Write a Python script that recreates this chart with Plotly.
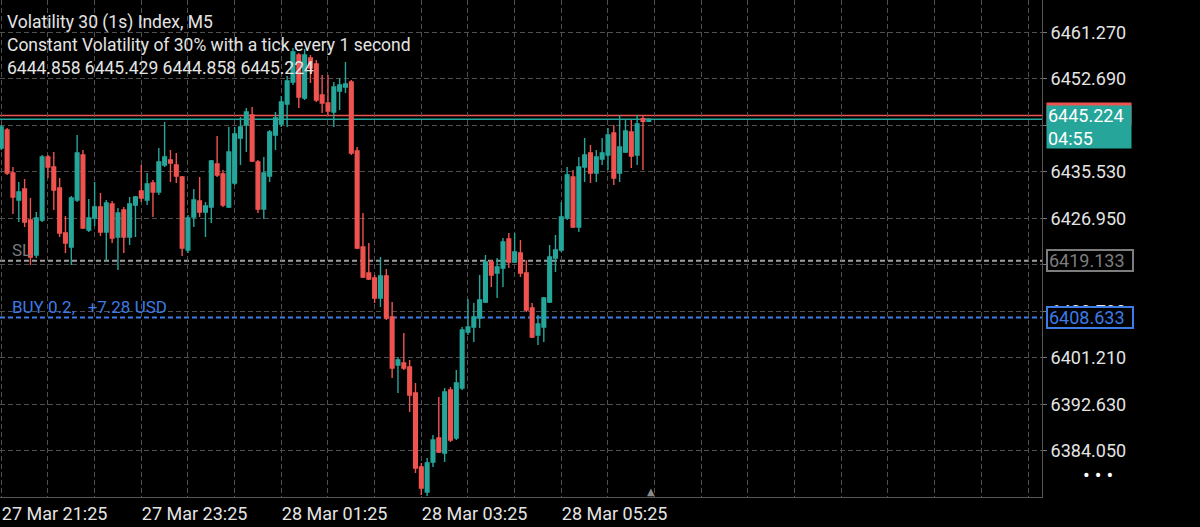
import pandas as pd
import plotly.graph_objects as go

# ---------------- data ----------------
start_time = "2025-03-27 21:25"
n_candles = 112
times = pd.date_range(start_time, periods=n_candles, freq="5min")

open_ = [6439.92, 6443.24, 6435.31, 6430.33, 6432.36, 6426.64, 6420.18, 6426.64, 6438.26, 6436.42,
         6432.54, 6424.24, 6421.66, 6430.33, 6438.63, 6424.79, 6427.01, 6429.04, 6424.43, 6429.59,
         6423.50, 6428.48, 6423.50, 6429.41, 6431.99, 6430.33, 6433.47, 6431.81, 6436.79, 6437.71,
         6436.79, 6434.57, 6421.10, 6427.19, 6430.15, 6428.12, 6429.04, 6436.97, 6435.13, 6429.04,
         6433.47, 6441.77, 6444.17, 6446.01, 6437.34, 6428.67, 6434.76, 6442.32, 6444.35, 6448.04,
         6452.10, 6457.08, 6449.15, 6456.53, 6455.42, 6449.70, 6448.23, 6446.57, 6450.44, 6451.18,
         6452.10, 6439.37, 6421.66, 6416.86, 6415.94, 6412.25, 6416.31, 6408.74, 6399.89, 6400.26,
         6399.52, 6394.72, 6381.07, 6376.46, 6381.99, 6386.42, 6383.65, 6395.27, 6386.42, 6395.64,
         6405.98, 6406.90, 6408.56, 6411.51, 6418.89, 6416.86, 6417.78, 6423.13, 6418.89, 6420.55,
         6416.86, 6410.40, 6405.42, 6406.90, 6411.51, 6419.63, 6421.10, 6427.01, 6434.57, 6425.35,
         6436.42, 6439.00, 6435.31, 6437.89, 6438.63, 6442.69, 6435.31, 6439.19, 6442.88, 6438.63,
         6445.35, 6444.858]

high = [6444.17, 6443.61, 6436.42, 6433.65, 6434.20, 6430.70, 6428.12, 6438.63, 6438.63, 6439.19,
        6434.39, 6427.38, 6431.07, 6442.32, 6439.55, 6430.51, 6433.65, 6431.62, 6430.33, 6430.15,
        6428.85, 6429.04, 6430.88, 6431.07, 6436.79, 6435.31, 6434.02, 6439.92, 6444.72, 6439.55,
        6439.00, 6434.76, 6427.56, 6432.36, 6434.57, 6429.96, 6437.71, 6442.14, 6435.86, 6443.80,
        6443.80, 6445.64, 6447.30, 6447.49, 6437.71, 6438.26, 6443.24, 6446.57, 6449.52, 6453.21,
        6458.37, 6457.45, 6458.19, 6457.08, 6456.16, 6453.39, 6453.39, 6452.10, 6452.84, 6455.79,
        6452.47, 6440.11, 6427.93, 6422.40, 6416.49, 6419.81, 6417.60, 6411.51, 6401.36, 6405.79,
        6400.81, 6396.57, 6381.81, 6382.73, 6386.97, 6393.98, 6395.64, 6395.83, 6398.96, 6406.90,
        6412.06, 6411.33, 6416.49, 6420.18, 6419.26, 6419.63, 6423.32, 6424.24, 6424.24, 6422.95,
        6419.26, 6411.33, 6409.11, 6412.43, 6422.03, 6423.87, 6429.96, 6436.42, 6435.86, 6438.26,
        6441.77, 6440.48, 6439.55, 6441.77, 6443.61, 6444.17, 6446.01, 6445.09, 6445.09, 6446.01,
        6445.83, 6445.429]

low = [6439.55, 6434.94, 6427.75, 6426.27, 6425.35, 6418.34, 6419.63, 6426.27, 6434.39, 6428.48,
       6423.50, 6420.55, 6418.34, 6429.96, 6424.98, 6424.43, 6425.53, 6423.69, 6419.08, 6422.40,
       6417.41, 6420.55, 6422.03, 6423.50, 6429.96, 6429.41, 6427.19, 6431.25, 6436.42, 6433.65,
       6433.47, 6420.00, 6420.55, 6425.35, 6427.19, 6423.50, 6426.09, 6434.57, 6429.04, 6428.85,
       6433.10, 6436.79, 6439.19, 6437.34, 6427.93, 6426.82, 6433.65, 6439.55, 6443.80, 6443.80,
       6451.55, 6447.30, 6448.78, 6451.92, 6448.41, 6446.38, 6446.01, 6443.80, 6446.93, 6450.07,
       6438.63, 6421.29, 6415.94, 6415.57, 6411.33, 6410.59, 6408.19, 6397.49, 6394.72, 6398.96,
       6391.22, 6379.96, 6375.90, 6375.72, 6381.07, 6383.65, 6381.99, 6385.68, 6386.05, 6395.27,
       6405.42, 6404.13, 6406.71, 6411.33, 6414.28, 6412.25, 6414.28, 6417.78, 6418.71, 6416.12,
       6409.67, 6404.87, 6403.58, 6404.13, 6411.33, 6417.05, 6420.74, 6426.64, 6425.16, 6424.43,
       6433.65, 6433.47, 6433.65, 6436.79, 6435.86, 6433.10, 6433.65, 6439.00, 6436.23, 6436.79,
       6435.86, 6444.858]

close = [6443.80, 6435.31, 6430.88, 6431.81, 6426.27, 6419.81, 6427.01, 6438.26, 6436.42, 6432.17,
         6424.24, 6422.40, 6430.70, 6439.00, 6425.16, 6427.01, 6429.04, 6424.43, 6429.78, 6423.32,
         6427.93, 6423.50, 6429.59, 6430.88, 6430.70, 6433.28, 6431.81, 6437.34, 6438.26, 6437.16,
         6434.76, 6421.47, 6427.01, 6430.33, 6428.12, 6429.22, 6437.53, 6434.94, 6429.41, 6439.19,
         6442.51, 6443.80, 6446.57, 6437.53, 6428.67, 6435.31, 6442.88, 6445.46, 6448.41, 6452.29,
         6457.64, 6449.33, 6457.08, 6454.68, 6448.78, 6448.23, 6446.75, 6451.18, 6451.55, 6451.73,
         6439.00, 6421.47, 6416.12, 6415.75, 6412.25, 6416.31, 6408.56, 6399.33, 6400.81, 6399.33,
         6394.35, 6380.88, 6377.19, 6381.81, 6386.05, 6383.84, 6394.91, 6386.05, 6396.57, 6406.34,
         6406.90, 6408.74, 6411.88, 6418.89, 6416.49, 6417.97, 6422.58, 6418.89, 6420.74, 6416.86,
         6410.03, 6405.05, 6407.45, 6412.25, 6419.81, 6421.10, 6427.19, 6434.94, 6425.35, 6436.42,
         6438.63, 6435.31, 6438.26, 6439.00, 6442.32, 6434.39, 6440.11, 6443.06, 6438.45, 6444.35,
         6444.86, 6445.224]

y_ticks = [6469.85, 6461.27, 6452.69, 6444.11, 6435.53, 6426.95, 6418.37, 6409.79, 6401.21, 6392.63, 6384.05]
x_label_times = ["2025-03-27 21:25", "2025-03-27 23:25", "2025-03-28 01:25", "2025-03-28 03:25", "2025-03-28 05:25"]
x_labels = ["27 Mar 21:25", "27 Mar 23:25", "28 Mar 01:25", "28 Mar 03:25", "28 Mar 05:25"]

bid_price = 6445.224
ask_price = 6445.924
sl_price = 6419.133
buy_price = 6408.633
countdown = "04:55"
title_lines = ["Volatility 30 (1s) Index, M5",
               "Constant Volatility of 30% with a tick every 1 second",
               "6444.858 6445.429 6444.858 6445.224"]
buy_text = "BUY 0.2,   +7.28 USD"

# ---------------- styling ----------------
W, H = 1200, 527
ML, MR, MT, MB = 0, 158, 0, 30
PW, PH = W - ML - MR, H - MT - MB
UP = "#26a69a"
DOWN = "#ef5350"
GRID = "#4f4f4f"
TXT = "#e4e4e4"
BLUE = "#3d7be6"
FONT = "Roboto"

fig = go.Figure()
fig.add_trace(go.Candlestick(
    x=times, open=open_, high=high, low=low, close=close,
    increasing=dict(line=dict(color=UP, width=1.4), fillcolor=UP),
    decreasing=dict(line=dict(color=DOWN, width=1.4), fillcolor=DOWN),
    whiskerwidth=0, hoverinfo="skip", showlegend=False,
))

t0 = pd.Timestamp(start_time)
grid_vals = [t0 + pd.Timedelta(minutes=40 * k) for k in range(0, 23)]
label_map = {pd.Timestamp(t): lab for t, lab in zip(x_label_times, x_labels)}
grid_text = [label_map.get(t, "") for t in grid_vals]

fig.update_xaxes(
    type="date",
    range=[t0 - pd.Timedelta(minutes=1.1), t0 + pd.Timedelta(minutes=892)],
    tickmode="array", tickvals=grid_vals, ticktext=grid_text,
    ticklabelposition="outside right",
    tickfont=dict(family=FONT, size=18, color=TXT),
    showgrid=True, gridcolor=GRID, griddash="5px,3px", gridwidth=1,
    showline=True, linecolor="#555555", linewidth=1, mirror=True,
    ticks="", rangeslider=dict(visible=False), zeroline=False,
)
fig.update_yaxes(
    side="right",
    range=[6375.53, 6467.23],
    tickmode="array", tickvals=y_ticks, ticktext=[f"{v:.3f}" for v in y_ticks],
    tickfont=dict(family=FONT, size=18, color=TXT),
    ticks="outside", ticklen=4, tickcolor="#777777",
    showgrid=True, gridcolor=GRID, griddash="5px,3px", gridwidth=1,
    showline=True, linecolor="#555555", linewidth=1, mirror=True,
    zeroline=False,
)

# price / order lines
for price, color, dash, width in [(ask_price, DOWN, "solid", 1.5), (bid_price, UP, "solid", 1.5),
                                  (sl_price, "#a0a0a0", "5px,3px", 2), (buy_price, BLUE, "5px,3px", 2)]:
    fig.add_shape(type="line", xref="paper", x0=0, x1=1, yref="y", y0=price, y1=price,
                  line=dict(color=color, width=width, dash=dash), layer="between")

ann = []
# title lines
for i, line in enumerate(title_lines):
    ann.append(dict(text=line, xref="paper", yref="paper", x=5 / PW, y=1 - (23 + 22.5 * i) / PH,
                    xanchor="left", yanchor="middle", showarrow=False,
                    font=dict(family=FONT, size=17.5, color=TXT)))
ann.append(dict(text="SL", xref="paper", yref="y", x=10 / PW, y=sl_price, xanchor="left", yanchor="bottom",
                yshift=-1, showarrow=False, font=dict(family=FONT, size=17, color="#7a7a7a")))
ann.append(dict(text=buy_text, xref="paper", yref="y", x=10 / PW, y=buy_price, xanchor="left", yanchor="bottom",
                yshift=-1, showarrow=False, font=dict(family=FONT, size=17, color=BLUE)))

bx = 1 + 4 / PW
# ask (red) box, mostly hidden
ann.append(dict(text=f"{ask_price:.3f}", xref="paper", yref="y", x=bx, y=ask_price, xanchor="left",
                yanchor="middle", yshift=1, showarrow=False, bgcolor=DOWN, width=82, height=20, borderpad=1,
                align="left", font=dict(family=FONT, size=18, color="#ffffff")))
# bid (teal) box
ann.append(dict(text=f"{bid_price:.3f}<br>{countdown}", xref="paper", yref="y", x=bx, y=bid_price,
                xanchor="left", yanchor="top", yshift=14, showarrow=False, bgcolor=UP, width=82, height=40,
                borderpad=1, align="left", font=dict(family=FONT, size=18, color="#ffffff")))
# SL box
ann.append(dict(text=f"{sl_price:.3f}", xref="paper", yref="y", x=bx, y=sl_price, xanchor="left",
                yanchor="middle", showarrow=False, bgcolor="#000000", bordercolor="#7d7d7d", borderwidth=2,
                width=82, height=17, borderpad=1, align="left", font=dict(family=FONT, size=18, color="#7d7d7d")))
# BUY box
ann.append(dict(text=f"{buy_price:.3f}", xref="paper", yref="y", x=bx, y=buy_price, xanchor="left",
                yanchor="middle", showarrow=False, bgcolor="#000000", bordercolor=BLUE, borderwidth=2,
                width=82, height=17, borderpad=1, align="left", font=dict(family=FONT, size=18, color=BLUE)))
# three dots
ann.append(dict(text="• • •", xref="paper", yref="paper", x=1 + 56 / PW, y=1 - 475 / PH, xanchor="center",
                yanchor="middle", showarrow=False, font=dict(family=FONT, size=20, color="#ffffff")))
# chart shift triangle
ann.append(dict(text="▲", xref="paper", yref="paper", x=651 / PW, y=0, xanchor="center", yanchor="bottom",
                yshift=-2, showarrow=False, font=dict(family="DejaVu Sans", size=10, color="#8a8a8a")))

fig.update_layout(
    width=W, height=H, margin=dict(l=ML, r=MR, t=MT, b=MB),
    paper_bgcolor="#000000", plot_bgcolor="#000000",
    annotations=ann, showlegend=False, hovermode=False,
    boxgap=0.1,
)

fig.write_html("out.html", config={"displayModeBar": False},
               post_script="document.body.style.margin='0';document.body.style.background='#000';")
